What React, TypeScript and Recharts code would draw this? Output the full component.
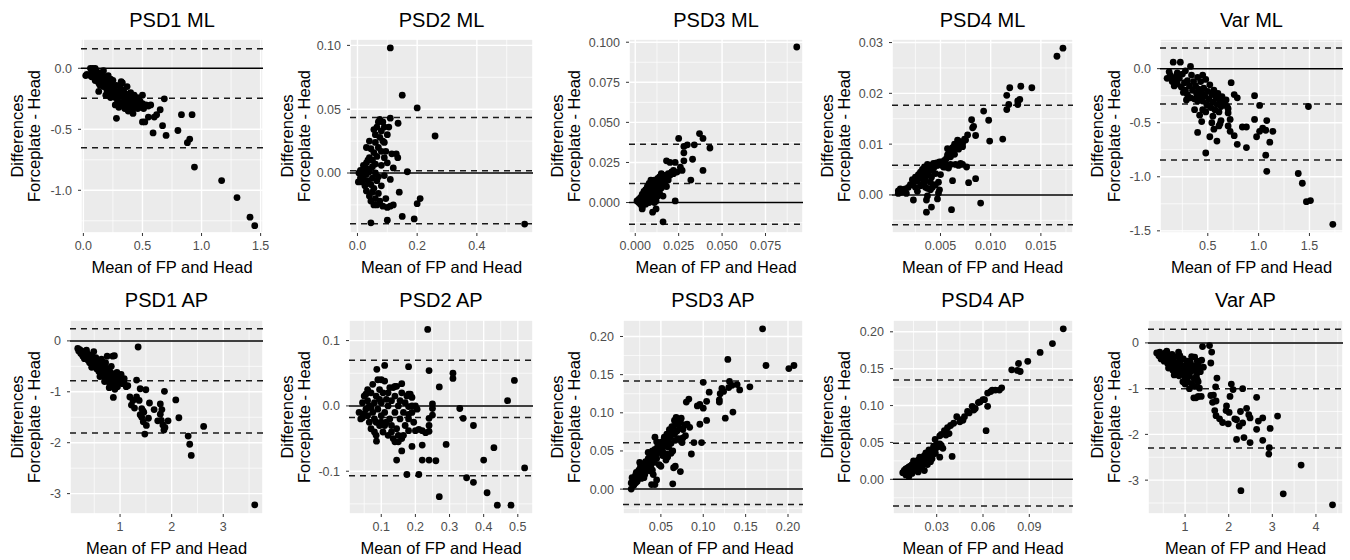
import React from 'react';
import {
    CartesianGrid,
    Label,
    ReferenceLine,
    Scatter,
    ScatterChart,
    XAxis,
    YAxis,
} from 'recharts';

type Pt = [number, number];

const titles = ['PSD1 ML', 'PSD2 ML', 'PSD3 ML', 'PSD4 ML', 'Var ML', 'PSD1 AP', 'PSD2 AP', 'PSD3 AP', 'PSD4 AP', 'Var AP'];
const xTitle = 'Mean of FP and Head';
const yTitleLines = ['Differences', 'Forceplate - Head'];

// [mean, mean + 1.96 sd, mean - 1.96 sd] for each panel
const limitsPsd1Ml = [-0.246, 0.16, -0.652];
const limitsPsd2Ml = [0.0018, 0.0434, -0.0397];
const limitsPsd3Ml = [0.0118, 0.0364, -0.0135];
const limitsPsd4Ml = [0.00585, 0.01766, -0.0059];
const limitsVarMl = [-0.326, 0.191, -0.846];
const limitsPsd1Ap = [-0.785, 0.24, -1.81];
const limitsPsd2Ap = [-0.0176, 0.0697, -0.107];
const limitsPsd3Ap = [0.0607, 0.1416, -0.0201];
const limitsPsd4Ap = [0.049, 0.1346, -0.0362];
const limitsVarAp = [-1.0, 0.3, -2.3];

// tick labels
const xTicksPsd1Ml = [0, 0.5, 1, 1.5];
const yTicksPsd1Ml = [-1, -0.5, 0];
const xTicksPsd2Ml = [0, 0.2, 0.4];
const yTicksPsd2Ml = [0, 0.05, 0.1];
const xTicksPsd3Ml = [0, 0.025, 0.05, 0.075];
const yTicksPsd3Ml = [0, 0.025, 0.05, 0.075, 0.1];
const xTicksPsd4Ml = [0.005, 0.01, 0.015];
const yTicksPsd4Ml = [0, 0.01, 0.02, 0.03];
const xTicksVarMl = [0.5, 1, 1.5];
const yTicksVarMl = [-1.5, -1, -0.5, 0];
const xTicksPsd1Ap = [1, 2, 3];
const yTicksPsd1Ap = [-3, -2, -1, 0];
const xTicksPsd2Ap = [0.1, 0.2, 0.3, 0.4, 0.5];
const yTicksPsd2Ap = [-0.1, 0, 0.1];
const xTicksPsd3Ap = [0.05, 0.1, 0.15, 0.2];
const yTicksPsd3Ap = [0, 0.05, 0.1, 0.15, 0.2];
const xTicksPsd4Ap = [0.03, 0.06, 0.09];
const yTicksPsd4Ap = [0, 0.05, 0.1, 0.15, 0.2];
const xTicksVarAp = [1, 2, 3, 4];
const yTicksVarAp = [-3, -2, -1, 0];

// points: [mean of FP and Head, difference]
const psd1Ml: Pt[] = [
    [0.02, -0.06], [0.03, -0.05], [0.06, 0.0], [0.07, -0.02], [0.08, 0.0], [0.09, -0.01], [0.1, 0.0],
    [0.06, -0.06], [0.07, -0.07], [0.08, -0.04], [0.09, -0.06], [0.1, -0.03], [0.11, -0.02], [0.12, -0.05],
    [0.11, -0.08], [0.1, -0.1], [0.12, -0.1], [0.13, -0.07], [0.14, -0.04], [0.13, -0.12], [0.15, -0.09],
    [0.14, -0.14], [0.16, -0.05], [0.17, -0.02], [0.16, -0.12], [0.17, -0.15], [0.18, -0.1], [0.18, -0.07],
    [0.19, -0.14], [0.2, -0.11], [0.2, -0.18], [0.21, -0.06], [0.21, -0.16], [0.22, -0.13], [0.22, -0.21],
    [0.23, -0.09], [0.23, -0.24], [0.24, -0.18], [0.24, -0.14], [0.25, -0.22], [0.25, -0.1], [0.19, -0.22],
    [0.26, -0.17], [0.27, -0.24], [0.27, -0.3], [0.28, -0.14], [0.28, -0.2], [0.29, -0.27], [0.3, -0.19],
    [0.3, -0.32], [0.31, -0.23], [0.31, -0.15], [0.32, -0.28], [0.33, -0.22], [0.33, -0.12], [0.34, -0.3],
    [0.34, -0.18], [0.35, -0.25], [0.35, -0.33], [0.36, -0.21], [0.36, -0.28], [0.37, -0.15], [0.37, -0.31],
    [0.38, -0.24], [0.38, -0.35], [0.39, -0.27], [0.4, -0.2], [0.4, -0.31], [0.41, -0.25], [0.41, -0.34],
    [0.42, -0.28], [0.43, -0.22], [0.43, -0.31], [0.44, -0.26], [0.45, -0.29], [0.46, -0.24], [0.47, -0.31],
    [0.48, -0.27], [0.49, -0.32], [0.5, -0.29], [0.51, -0.33], [0.53, -0.3], [0.55, -0.31],
    [0.13, -0.19], [0.32, -0.11], [0.28, -0.41], [0.5, -0.22], [0.42, -0.37], [0.45, -0.32], [0.46, -0.33],
    [0.52, -0.44], [0.55, -0.4], [0.57, -0.3], [0.6, -0.4], [0.62, -0.38], [0.65, -0.34], [0.5, -0.44],
    [0.685, -0.25], [0.83, -0.38], [0.92, -0.38], [0.8, -0.51], [0.59, -0.53], [0.7, -0.55], [0.67, -0.47],
    [0.9, -0.58], [0.88, -0.61], [0.94, -0.81], [1.17, -0.92], [1.3, -1.06], [1.41, -1.22], [1.45, -1.29],
];

const psd2Ml: Pt[] = [
    [0.11, 0.098], [0.15, 0.061], [0.2, 0.051], [0.26, 0.029], [0.56, -0.04], [0.167, 0.001], [0.21, -0.02],
    [0.2, -0.024], [0.19, -0.036], [0.15, -0.034], [0.1, -0.037], [0.045, -0.039], [0.14, -0.015], [0.13, 0.015],
    [0.135, 0.012], [0.12, 0.004], [0.136, 0.039], [0.11, 0.043], [0.12, -0.025], [0.11, -0.026],
    [0.01, -0.004], [0.01, 0.002], [0.015, -0.007], [0.02, 0.001], [0.02, -0.003], [0.02, 0.006], [0.025, -0.01],
    [0.025, 0.004], [0.03, -0.001], [0.03, 0.008], [0.03, -0.014], [0.035, 0.003], [0.035, -0.006], [0.04, 0.012],
    [0.04, -0.018], [0.04, 0.001], [0.045, -0.009], [0.045, 0.019], [0.045, -0.022], [0.05, 0.005], [0.05, -0.004],
    [0.05, 0.01], [0.05, -0.015], [0.055, 0.034], [0.055, -0.012], [0.055, 0.016], [0.06, 0.0], [0.06, -0.02],
    [0.06, 0.024], [0.06, 0.007], [0.065, -0.006], [0.065, 0.036], [0.065, -0.025], [0.065, 0.013], [0.07, 0.04],
    [0.07, -0.003], [0.07, 0.02], [0.07, -0.016], [0.075, 0.028], [0.075, 0.042], [0.075, -0.022], [0.08, 0.006],
    [0.08, -0.01], [0.08, 0.033], [0.08, 0.017], [0.085, -0.026], [0.085, 0.025], [0.09, 0.036], [0.09, -0.002],
    [0.09, 0.012], [0.095, -0.02], [0.095, 0.017], [0.1, 0.03], [0.1, -0.027], [0.1, 0.008], [0.105, 0.036],
    [0.11, -0.005], [0.115, 0.015], [0.03, 0.02], [0.04, 0.025], [0.035, 0.01], [0.055, -0.025], [0.06, 0.03],
    [0.085, 0.04], [0.09, 0.024], [0.003, -0.007], [0.005, 0.0],
];

const psd3Ml: Pt[] = [
    [0.093, 0.097], [0.037, 0.043], [0.039, 0.04], [0.043, 0.034], [0.039, 0.02], [0.033, 0.027], [0.032, 0.014],
    [0.034, 0.036], [0.025, 0.04], [0.023, 0.001], [0.016, -0.012], [0.03, 0.036], [0.028, 0.035], [0.028, 0.031],
    [0.028, 0.026], [0.018, 0.026], [0.02, 0.025], [0.023, 0.025], [0.027, 0.02], [0.026, 0.022], [0.024, 0.019],
    [0.021, 0.019], [0.022, 0.02],
    [0.001, 0.001], [0.002, 0.002], [0.002, 0.0], [0.003, 0.003], [0.003, -0.001], [0.004, 0.002], [0.004, 0.005],
    [0.004, -0.003], [0.005, 0.001], [0.005, 0.004], [0.005, 0.007], [0.006, 0.003], [0.006, -0.001], [0.006, 0.008],
    [0.007, 0.005], [0.007, 0.002], [0.007, 0.01], [0.008, 0.006], [0.008, 0.0], [0.008, 0.009], [0.009, 0.004],
    [0.009, 0.011], [0.009, 0.007], [0.01, 0.002], [0.01, 0.008], [0.01, 0.012], [0.01, -0.006], [0.011, 0.005],
    [0.011, 0.01], [0.011, 0.014], [0.012, 0.007], [0.012, 0.012], [0.012, 0.001], [0.013, 0.009], [0.013, 0.015],
    [0.013, 0.004], [0.014, 0.011], [0.014, 0.016], [0.014, 0.006], [0.015, 0.013], [0.015, 0.009], [0.015, 0.018],
    [0.016, 0.015], [0.016, 0.011], [0.016, 0.004], [0.017, 0.017], [0.017, 0.013], [0.018, 0.016], [0.018, 0.01],
    [0.019, 0.018], [0.019, 0.014], [0.02, 0.017], [0.021, 0.019], [0.022, 0.018], [0.012, -0.004], [0.006, 0.005],
    [0.003, 0.001], [0.008, 0.012], [0.009, 0.014], [0.011, 0.0], [0.004, -0.004],
];

const psd4Ml: Pt[] = [
    [0.0172, 0.0289], [0.0166, 0.0273], [0.013, 0.0214], [0.0141, 0.0211], [0.0119, 0.0211], [0.0116, 0.0196],
    [0.0129, 0.0188], [0.0127, 0.0185], [0.0127, 0.0178], [0.0118, 0.0178], [0.0116, 0.0168], [0.0112, 0.011],
    [0.0093, 0.0165], [0.0098, 0.0147], [0.0099, 0.0106], [0.009, -0.0016], [0.0085, 0.0032], [0.0078, 0.0024],
    [0.0076, 0.0055], [0.0085, 0.0117], [0.0082, 0.0132], [0.0083, 0.0135], [0.0081, 0.0148], [0.0077, 0.0118],
    [0.0075, 0.0108], [0.0072, 0.0101], [0.0069, 0.0099], [0.0067, 0.0108], [0.0064, 0.01], [0.0062, 0.0093],
    [0.0072, 0.006], [0.0068, 0.0058], [0.0061, -0.0029], [0.0062, 0.0028], [0.0058, 0.0053], [0.0057, 0.0091],
    [0.0057, 0.0079], [0.0053, 0.0055], [0.0048, 0.0004], [0.0049, 0.001], [0.0041, -0.0024], [0.0036, -0.0034],
    [0.0036, -0.001], [0.0037, -0.0002], [0.0047, -0.0008], [0.0037, 0.0013], [0.004, 0.001], [0.0034, 0.0023],
    [0.0032, 0.0021], [0.0023, -0.001], [0.0027, 0.0007], [0.0023, 0.0025], [0.0008, 0.0008], [0.0011, 0.0005],
    [0.0016, 0.0003], [0.0008, 0.0003], [0.001, 0.0012], [0.0012, 0.001],
    [0.002, 0.002], [0.0022, 0.003], [0.0025, 0.0035], [0.0027, 0.0028], [0.0028, 0.004], [0.003, 0.0045],
    [0.003, 0.0033], [0.0032, 0.005], [0.0033, 0.0038], [0.0034, 0.0055], [0.0035, 0.003], [0.0036, 0.0045],
    [0.0037, 0.006], [0.0038, 0.004], [0.0039, 0.0052], [0.004, 0.0058], [0.0041, 0.0035], [0.0042, 0.0048],
    [0.0043, 0.0062], [0.0044, 0.0055], [0.0045, 0.0042], [0.0046, 0.0063], [0.0047, 0.0058], [0.0048, 0.0025],
    [0.0049, 0.0065], [0.005, 0.006], [0.0051, 0.0065], [0.0052, 0.0058], [0.0054, 0.0068], [0.0055, 0.0062],
    [0.0056, 0.0072], [0.0058, 0.008], [0.0059, 0.0088], [0.006, 0.0075], [0.0061, 0.0085], [0.0063, 0.009],
    [0.0064, 0.008], [0.0066, 0.0095], [0.0068, 0.009], [0.007, 0.0105], [0.0072, 0.0095], [0.0074, 0.011],
    [0.0025, 0.0015], [0.003, 0.0018], [0.0018, 0.0015], [0.0015, 0.0012], [0.004, 0.0025], [0.0045, 0.002],
    [0.005, 0.004], [0.0035, 0.0015], [0.0042, 0.0015], [0.0055, 0.0055], [0.006, 0.006], [0.0065, 0.006],
    [0.007, 0.0062],
];

const varMl: Pt[] = [
    [0.16, 0.06], [0.23, 0.06], [0.33, 0.02], [0.1, -0.09], [0.13, -0.06], [0.16, -0.1], [0.19, -0.07],
    [0.73, -0.13], [0.76, -0.24], [0.79, -0.27], [0.96, -0.25], [1.01, -0.34], [0.96, -0.47], [1.08, -0.48],
    [1.14, -0.58], [1.11, -0.68], [1.01, -0.58], [1.04, -0.55], [0.98, -0.63], [1.07, -0.57], [1.07, -0.8],
    [1.08, -0.95], [0.88, -0.54], [0.84, -0.54], [0.88, -0.73], [0.79, -0.7], [0.76, -0.62], [0.72, -0.58],
    [0.7, -0.53], [0.72, -0.47], [0.7, -0.41], [0.69, -0.35], [0.63, -0.48], [0.61, -0.53], [0.62, -0.51],
    [0.59, -0.67], [0.52, -0.63], [0.56, -0.56], [0.54, -0.5], [0.55, -0.44], [0.48, -0.78], [0.4, -0.59],
    [0.48, -0.4], [0.5, -0.34], [0.45, -0.38], [0.44, -0.49], [0.42, -0.43], [0.37, -0.38],
    [0.15, -0.12], [0.18, -0.1], [0.2, -0.14], [0.22, -0.09], [0.24, -0.17], [0.25, -0.05], [0.27, -0.13],
    [0.28, -0.2], [0.3, -0.11], [0.3, -0.24], [0.32, -0.16], [0.33, -0.27], [0.34, -0.06], [0.35, -0.2],
    [0.36, -0.12], [0.37, -0.28], [0.38, -0.16], [0.39, -0.23], [0.4, -0.08], [0.4, -0.3], [0.41, -0.19],
    [0.42, -0.26], [0.43, -0.12], [0.44, -0.22], [0.45, -0.06], [0.45, -0.3], [0.46, -0.18], [0.47, -0.25],
    [0.48, -0.1], [0.49, -0.33], [0.5, -0.21], [0.51, -0.28], [0.52, -0.15], [0.53, -0.36], [0.54, -0.24],
    [0.55, -0.31], [0.56, -0.2], [0.57, -0.38], [0.58, -0.27], [0.59, -0.33], [0.6, -0.23], [0.61, -0.4],
    [0.62, -0.29], [0.63, -0.35], [0.64, -0.26], [0.66, -0.32], [0.68, -0.29], [0.7, -0.37], [0.2, -0.04],
    [0.17, -0.16], [0.26, -0.22], [0.28, -0.02], [0.12, -0.03], [0.29, -0.29],
    [1.39, -0.97], [1.43, -1.06], [1.47, -1.23], [1.51, -1.22], [1.49, -0.35], [1.73, -1.44],
];

const psd1Ap: Pt[] = [
    [0.18, -0.15], [0.2, -0.2], [0.22, -0.17], [0.24, -0.25], [0.26, -0.2], [0.28, -0.3], [0.3, -0.22],
    [0.31, -0.35], [0.33, -0.27], [0.35, -0.32], [0.36, -0.24], [0.38, -0.38], [0.4, -0.3], [0.41, -0.43],
    [0.43, -0.35], [0.45, -0.28], [0.46, -0.45], [0.48, -0.38], [0.49, -0.21], [0.5, -0.5], [0.52, -0.42],
    [0.53, -0.33], [0.55, -0.55], [0.56, -0.47], [0.58, -0.4], [0.59, -0.6], [0.6, -0.52], [0.62, -0.45],
    [0.63, -0.65], [0.64, -0.36], [0.65, -0.56], [0.67, -0.48], [0.68, -0.7], [0.7, -0.6], [0.71, -0.52],
    [0.72, -0.43], [0.73, -0.75], [0.74, -0.64], [0.75, -0.3], [0.76, -0.56], [0.77, -0.8], [0.78, -0.68],
    [0.8, -0.6], [0.81, -0.85], [0.82, -0.72], [0.83, -0.5], [0.84, -0.64], [0.85, -0.9], [0.86, -0.3],
    [0.87, -0.77], [0.88, -0.68], [0.9, -0.85], [0.92, -0.73], [0.94, -0.62], [0.96, -0.82], [0.98, -0.7],
    [1.0, -0.78], [1.02, -0.66], [1.05, -0.84], [1.08, -0.74], [1.12, -0.9], [0.35, -0.18], [0.27, -0.26],
    [0.55, -0.38], [0.66, -0.42], [0.61, -0.7], [0.79, -0.92], [0.7, -0.8], [0.45, -0.52], [0.9, -0.95],
    [0.95, -0.9], [1.15, -0.88],
    [1.35, -0.12], [3.61, -3.22], [2.38, -2.25], [2.35, -2.03], [2.32, -1.87], [2.62, -1.68], [2.14, -1.51],
    [2.08, -1.16], [1.86, -0.99], [1.93, -1.57], [1.87, -1.7], [1.85, -1.75], [1.78, -1.24], [1.81, -1.35],
    [1.78, -1.44], [1.73, -1.57], [1.66, -1.35], [1.48, -1.83], [1.51, -1.66], [1.45, -1.59], [1.55, -1.52],
    [1.57, -1.22], [1.5, -0.96], [1.39, -0.94], [1.37, -1.17], [1.32, -1.1], [1.42, -1.33], [1.39, -1.45],
    [1.44, -1.37], [1.32, -0.77], [1.22, -1.26], [1.19, -1.1], [1.08, -0.83], [0.87, -1.11], [0.89, -0.29],
    [1.25, -1.17], [1.42, -1.5], [1.46, -1.4], [1.8, -1.56], [1.83, -1.65], [1.28, -1.32],
];

const psd2Ap: Pt[] = [
    [0.236, 0.117], [0.52, -0.095], [0.49, 0.039], [0.47, 0.008], [0.43, -0.064], [0.4, -0.083], [0.41, -0.133],
    [0.44, -0.152], [0.48, -0.152], [0.35, -0.11], [0.37, -0.117], [0.37, -0.03], [0.34, -0.019], [0.33, -0.004],
    [0.31, 0.05], [0.31, 0.042], [0.29, -0.059], [0.27, 0.029], [0.27, -0.139], [0.26, -0.084], [0.24, -0.083],
    [0.24, 0.054], [0.25, 0.003], [0.25, -0.004], [0.25, -0.014], [0.24, -0.019], [0.24, -0.039], [0.23, -0.041],
    [0.24, -0.03], [0.22, -0.038], [0.21, -0.036], [0.2, -0.038], [0.21, -0.105], [0.22, -0.06], [0.22, -0.083],
    [0.175, -0.105], [0.18, -0.038], [0.18, -0.013], [0.18, -0.001], [0.19, -0.01], [0.18, 0.06], [0.19, 0.013],
    [0.18, 0.018], [0.19, -0.062], [0.16, 0.034], [0.16, -0.069], [0.145, -0.083], [0.11, 0.062], [0.087, 0.056],
    [0.086, -0.054], [0.14, 0.03], [0.145, 0.03],
    [0.035, -0.01], [0.04, -0.02], [0.045, 0.005], [0.05, -0.012], [0.05, 0.015], [0.055, 0.018], [0.055, -0.005],
    [0.06, -0.015], [0.06, 0.008], [0.065, -0.025], [0.065, 0.0], [0.07, -0.035], [0.07, 0.02], [0.075, 0.033],
    [0.075, -0.01], [0.08, -0.04], [0.08, 0.005], [0.085, -0.025], [0.085, 0.015], [0.09, 0.04], [0.09, -0.005],
    [0.095, -0.03], [0.095, 0.025], [0.1, 0.04], [0.1, -0.015], [0.1, 0.005], [0.105, -0.04], [0.105, 0.02],
    [0.11, 0.038], [0.11, -0.01], [0.115, -0.025], [0.115, 0.01], [0.12, 0.0], [0.12, -0.045], [0.125, 0.028],
    [0.125, -0.02], [0.13, -0.03], [0.13, 0.008], [0.135, 0.028], [0.135, -0.05], [0.14, -0.01], [0.14, -0.055],
    [0.145, -0.035], [0.15, 0.0], [0.15, -0.045], [0.155, 0.008], [0.155, -0.02], [0.16, -0.05], [0.165, -0.01],
    [0.17, 0.005], [0.17, -0.03], [0.175, 0.015], [0.18, -0.02], [0.185, 0.018], [0.19, 0.0], [0.195, -0.025],
    [0.2, 0.0], [0.205, -0.005], [0.045, -0.018], [0.06, 0.025], [0.08, -0.02], [0.095, 0.01], [0.11, -0.03],
    [0.13, -0.04], [0.15, -0.055], [0.165, -0.045], [0.085, -0.045], [0.1, -0.025], [0.07, -0.003], [0.12, 0.02],
    [0.16, 0.02], [0.14, 0.015],
];

const psd3Ap: Pt[] = [
    [0.17, 0.21], [0.129, 0.17], [0.174, 0.162], [0.201, 0.158], [0.207, 0.162], [0.131, 0.141], [0.13, 0.133],
    [0.134, 0.136], [0.14, 0.137], [0.143, 0.13], [0.155, 0.134], [0.122, 0.132], [0.124, 0.128], [0.12, 0.125],
    [0.119, 0.117], [0.119, 0.114], [0.126, 0.093], [0.135, 0.101], [0.1, 0.14], [0.107, 0.127], [0.104, 0.115],
    [0.1, 0.106], [0.096, 0.111], [0.093, 0.109], [0.104, 0.09], [0.096, 0.085], [0.098, 0.061], [0.089, 0.061],
    [0.086, 0.046], [0.083, 0.118], [0.08, 0.114], [0.084, 0.081], [0.081, 0.085], [0.073, 0.088], [0.075, 0.061],
    [0.079, 0.07], [0.076, 0.067], [0.073, 0.023], [0.064, 0.007], [0.065, 0.028], [0.067, 0.03], [0.068, 0.094],
    [0.066, 0.09], [0.063, 0.082], [0.045, 0.012], [0.039, 0.006], [0.043, 0.006], [0.043, 0.068], [0.041, 0.019],
    [0.037, 0.024], [0.056, 0.046], [0.052, 0.05],
    [0.015, 0.0], [0.015, 0.008], [0.016, 0.015], [0.018, 0.005], [0.019, 0.012], [0.02, 0.018], [0.021, 0.022],
    [0.022, 0.01], [0.023, 0.016], [0.024, 0.025], [0.025, 0.02], [0.026, 0.03], [0.027, 0.014], [0.028, 0.024],
    [0.029, 0.033], [0.03, 0.028], [0.031, 0.019], [0.032, 0.036], [0.033, 0.03], [0.034, 0.025], [0.035, 0.04],
    [0.036, 0.033], [0.037, 0.045], [0.038, 0.03], [0.039, 0.038], [0.04, 0.05], [0.041, 0.042], [0.042, 0.035],
    [0.043, 0.052], [0.044, 0.046], [0.045, 0.04], [0.046, 0.055], [0.047, 0.048], [0.048, 0.032], [0.049, 0.058],
    [0.05, 0.05], [0.051, 0.062], [0.052, 0.044], [0.053, 0.056], [0.054, 0.068], [0.055, 0.06], [0.056, 0.038],
    [0.057, 0.072], [0.058, 0.064], [0.059, 0.055], [0.06, 0.078], [0.061, 0.068], [0.062, 0.06], [0.063, 0.074],
    [0.064, 0.05], [0.065, 0.082], [0.066, 0.072], [0.067, 0.064], [0.068, 0.086], [0.069, 0.076], [0.07, 0.09],
    [0.071, 0.066], [0.072, 0.08], [0.074, 0.093], [0.076, 0.078], [0.078, 0.084], [0.02, 0.008], [0.03, 0.015],
    [0.04, 0.025], [0.05, 0.03], [0.058, 0.042], [0.062, 0.047], [0.045, 0.062], [0.035, 0.048], [0.025, 0.035],
];

const psd4Ap: Pt[] = [
    [0.112, 0.204], [0.105, 0.184], [0.097, 0.172], [0.089, 0.16], [0.083, 0.157], [0.0786, 0.1485],
    [0.0823, 0.1476], [0.0841, 0.1462], [0.0721, 0.124], [0.0706, 0.121], [0.068, 0.121], [0.066, 0.121],
    [0.065, 0.119], [0.063, 0.117], [0.063, 0.099], [0.062, 0.066], [0.06, 0.108], [0.057, 0.104], [0.055, 0.096],
    [0.054, 0.094], [0.053, 0.099], [0.05, 0.092], [0.048, 0.085], [0.046, 0.081], [0.043, 0.085], [0.041, 0.076],
    [0.039, 0.073], [0.037, 0.07], [0.035, 0.066], [0.04, 0.031], [0.033, 0.061], [0.032, 0.059], [0.029, 0.054],
    [0.032, 0.03], [0.029, 0.035], [0.036, 0.06], [0.038, 0.062], [0.045, 0.078], [0.047, 0.08], [0.051, 0.09],
    [0.058, 0.105], [0.061, 0.108],
    [0.008, 0.009], [0.009, 0.012], [0.01, 0.006], [0.01, 0.014], [0.011, 0.01], [0.012, 0.004], [0.012, 0.017],
    [0.013, 0.012], [0.014, 0.02], [0.014, 0.008], [0.015, 0.016], [0.016, 0.023], [0.016, 0.013], [0.017, 0.019],
    [0.018, 0.026], [0.018, 0.01], [0.019, 0.022], [0.02, 0.029], [0.02, 0.016], [0.021, 0.025], [0.022, 0.032],
    [0.022, 0.012], [0.023, 0.028], [0.024, 0.035], [0.024, 0.02], [0.025, 0.031], [0.026, 0.038], [0.026, 0.024],
    [0.027, 0.034], [0.028, 0.042], [0.028, 0.045], [0.029, 0.04], [0.03, 0.047], [0.031, 0.044], [0.032, 0.048],
    [0.033, 0.046], [0.034, 0.042], [0.019, 0.03], [0.017, 0.015], [0.021, 0.02], [0.023, 0.036], [0.015, 0.025],
    [0.025, 0.04], [0.013, 0.018], [0.011, 0.015], [0.027, 0.028], [0.029, 0.036],
];

const varAp: Pt[] = [
    [4.38, -3.54], [3.66, -2.67], [3.25, -3.3], [2.28, -3.23], [2.95, -1.87], [2.93, -2.29], [2.92, -2.43],
    [3.12, -1.6], [2.78, -1.64], [2.78, -2.13], [2.64, -1.19], [2.64, -1.89], [2.68, -1.71], [2.49, -2.18],
    [2.35, -2.07], [2.18, -2.11], [2.32, -1.0], [2.46, -1.57], [2.41, -1.43], [2.49, -1.64], [2.27, -1.5],
    [2.32, -1.75], [2.24, -1.82], [2.18, -1.68], [2.14, -1.66], [2.06, -0.9], [2.1, -1.02], [2.03, -1.17],
    [1.95, -1.38], [2.01, -1.52], [1.94, -1.48], [1.99, -1.77], [1.86, -1.74], [1.79, -1.66], [1.71, -1.59],
    [1.68, -1.48], [1.73, -0.77], [1.7, -0.96], [1.65, -1.14], [1.63, -1.3], [1.71, -1.27], [1.59, -1.15],
    [1.4, -0.08], [1.56, -0.06], [1.61, -0.2], [1.59, -0.44], [1.38, -0.38], [1.42, -0.53], [1.35, -0.63],
    [1.28, -0.81], [1.33, -0.99], [1.37, -1.17], [1.3, -1.17], [1.22, -0.31], [1.3, -0.46],
    [0.35, -0.22], [0.4, -0.28], [0.42, -0.2], [0.45, -0.35], [0.48, -0.25], [0.5, -0.3], [0.52, -0.4],
    [0.55, -0.22], [0.57, -0.33], [0.6, -0.45], [0.62, -0.28], [0.64, -0.38], [0.66, -0.52], [0.68, -0.32],
    [0.7, -0.44], [0.72, -0.6], [0.74, -0.4], [0.76, -0.5], [0.78, -0.3], [0.8, -0.65], [0.82, -0.45],
    [0.84, -0.55], [0.85, -0.2], [0.86, -0.72], [0.88, -0.4], [0.9, -0.6], [0.92, -0.5], [0.94, -0.68],
    [0.96, -0.35], [0.98, -0.58], [1.0, -0.75], [1.02, -0.48], [1.04, -0.65], [1.06, -0.85], [1.08, -0.55],
    [1.1, -0.72], [1.12, -0.42], [1.14, -0.62], [1.16, -0.9], [1.18, -0.5], [1.2, -0.78], [1.22, -0.95],
    [1.24, -0.6], [1.26, -0.72], [1.28, -0.4], [1.3, -0.85], [1.32, -0.55], [1.2, -1.2], [1.25, -1.2],
    [1.1, -1.0], [0.95, -0.85], [0.75, -0.7], [0.62, -0.55], [1.0, -0.9], [1.15, -0.3], [1.05, -0.4],
    [0.7, -0.25], [0.58, -0.18], [0.88, -0.28],
];

const FONT = '"Liberation Sans", Arial, Helvetica, sans-serif';
const PANEL_W = 270;
const PANEL_H = 280;
const PLOT_RIGHT = 263;

interface PanelCfg {
    title: string;
    points: Pt[];
    limits: number[];
    xTicks: number[];
    yTicks: number[];
    xDomain: [number, number];
    yDomain: [number, number];
    xDigits: number;
    yDigits: number;
    plotLeft: number;
}

const panels: PanelCfg[] = [
    { title: titles[0], points: psd1Ml, limits: limitsPsd1Ml, xTicks: xTicksPsd1Ml, yTicks: yTicksPsd1Ml, xDomain: [-0.02, 1.52], yDomain: [-1.35, 0.24], xDigits: 1, yDigits: 1, plotLeft: 81 },
    { title: titles[1], points: psd2Ml, limits: limitsPsd2Ml, xTicks: xTicksPsd2Ml, yTicks: yTicksPsd2Ml, xDomain: [-0.025, 0.588], yDomain: [-0.047, 0.105], xDigits: 1, yDigits: 2, plotLeft: 80 },
    { title: titles[2], points: psd3Ml, limits: limitsPsd3Ml, xTicks: xTicksPsd3Ml, yTicks: yTicksPsd3Ml, xDomain: [-0.0036, 0.0966], yDomain: [-0.019, 0.102], xDigits: 3, yDigits: 3, plotLeft: 89 },
    { title: titles[3], points: psd4Ml, limits: limitsPsd4Ml, xTicks: xTicksPsd4Ml, yTicks: yTicksPsd4Ml, xDomain: [0.00017, 0.0182], yDomain: [-0.0075, 0.0307], xDigits: 3, yDigits: 2, plotLeft: 82 },
    { title: titles[4], points: varMl, limits: limitsVarMl, xTicks: xTicksVarMl, yTicks: yTicksVarMl, xDomain: [0.03, 1.83], yDomain: [-1.52, 0.274], xDigits: 1, yDigits: 1, plotLeft: 80 },
    { title: titles[5], points: psd1Ap, limits: limitsPsd1Ap, xTicks: xTicksPsd1Ap, yTicks: yTicksPsd1Ap, xDomain: [0.03, 3.77], yDomain: [-3.4, 0.41], xDigits: 0, yDigits: 0, plotLeft: 70 },
    { title: titles[6], points: psd2Ap, limits: limitsPsd2Ap, xTicks: xTicksPsd2Ap, yTicks: yTicksPsd2Ap, xDomain: [0.0055, 0.5445], yDomain: [-0.1655, 0.1315], xDigits: 1, yDigits: 1, plotLeft: 79 },
    { title: titles[7], points: psd3Ap, limits: limitsPsd3Ap, xTicks: xTicksPsd3Ap, yTicks: yTicksPsd3Ap, xDomain: [0.0053, 0.2177], yDomain: [-0.0326, 0.2216], xDigits: 2, yDigits: 2, plotLeft: 83 },
    { title: titles[8], points: psd4Ap, limits: limitsPsd4Ap, xTicks: xTicksPsd4Ap, yTicks: yTicksPsd4Ap, xDomain: [0.0017, 0.1183], yDomain: [-0.047, 0.216], xDigits: 2, yDigits: 2, plotLeft: 83 },
    { title: titles[9], points: varAp, limits: limitsVarAp, xTicks: xTicksVarAp, yTicks: yTicksVarAp, xDomain: [0.15, 4.62], yDomain: [-3.74, 0.5], xDigits: 0, yDigits: 0, plotLeft: 68 },
];

// ggplot style minor breaks: midpoints between (extended) major breaks, inside the range
function minorBreaks(major: number[], domain: [number, number]) {
    const step = major[1] - major[0];
    const ext = [major[0] - step, ...major, major[major.length - 1] + step];
    const out: number[] = [];
    for (let i = 0; i < ext.length - 1; i++) {
        const m = (ext[i] + ext[i + 1]) / 2;
        if (m > domain[0] && m < domain[1]) out.push(m);
    }
    return out;
}

const tickStyle = { fill: '#4D4D4D', fontSize: 12.5, fontFamily: FONT };

function XTitle(props: any) {
    const vb = props.viewBox;
    return (
        <text x={vb.x + vb.width / 2} y={vb.y + 40} textAnchor="middle" fontSize={16.5} fontFamily={FONT} fill="#000">
            {xTitle}
        </text>
    );
}

function YTitle(props: any) {
    const vb = props.viewBox;
    const cy = vb.y + vb.height / 2;
    return (
        <g>
            {yTitleLines.map((line, i) => (
                <text
                    key={line}
                    transform={`translate(${23 + i * 17}, ${cy}) rotate(-90)`}
                    textAnchor="middle"
                    fontSize={16.5}
                    fontFamily={FONT}
                    fill="#000"
                >
                    {line}
                </text>
            ))}
        </g>
    );
}

function Panel({ cfg, row, col }: { cfg: PanelCfg; row: number; col: number }) {
    const top = row === 0 ? 39 : 40;
    const bottom = row === 0 ? 233 : 234;
    const data = cfg.points.map(([x, y]) => ({ x, y }));
    const [mean, upper, lower] = cfg.limits;
    const xMinor = minorBreaks(cfg.xTicks, cfg.xDomain);
    const yMinor = minorBreaks(cfg.yTicks, cfg.yDomain);

    return (
        <div style={{ position: 'absolute', left: col * PANEL_W, top: row * PANEL_H, width: PANEL_W, height: PANEL_H }}>
            <div
                style={{
                    position: 'absolute',
                    left: cfg.plotLeft,
                    width: PLOT_RIGHT - cfg.plotLeft,
                    top: 10,
                    textAlign: 'center',
                    fontFamily: FONT,
                    fontSize: 20,
                    lineHeight: '20px',
                    color: '#000',
                }}
            >
                {cfg.title}
            </div>
            <ScatterChart
                width={PANEL_W}
                height={PANEL_H}
                margin={{ top, right: PANEL_W - PLOT_RIGHT, bottom: 0, left: 0 }}
            >
                {/* minor grid (hidden axes) */}
                <XAxis xAxisId="minor" type="number" dataKey="x" domain={cfg.xDomain} ticks={xMinor} allowDataOverflow hide />
                <YAxis yAxisId="minor" type="number" dataKey="y" domain={cfg.yDomain} ticks={yMinor} allowDataOverflow hide />
                <CartesianGrid xAxisId="minor" yAxisId="minor" stroke="#FFFFFF" strokeWidth={0.7} fill="#EBEBEB" fillOpacity={1} />
                <CartesianGrid stroke="#FFFFFF" strokeWidth={1.4} />
                <XAxis
                    type="number"
                    dataKey="x"
                    domain={cfg.xDomain}
                    ticks={cfg.xTicks}
                    interval={0}
                    allowDataOverflow
                    height={PANEL_H - bottom}
                    tickFormatter={(v: number) => v.toFixed(cfg.xDigits)}
                    tick={tickStyle}
                    tickLine={{ stroke: '#333333' }}
                    tickSize={3}
                    tickMargin={5}
                    axisLine={false}
                >
                    <Label content={XTitle} />
                </XAxis>
                <YAxis
                    type="number"
                    dataKey="y"
                    domain={cfg.yDomain}
                    ticks={cfg.yTicks}
                    interval={0}
                    allowDataOverflow
                    width={cfg.plotLeft}
                    tickFormatter={(v: number) => v.toFixed(cfg.yDigits)}
                    tick={tickStyle}
                    tickLine={{ stroke: '#333333' }}
                    tickSize={3}
                    tickMargin={6}
                    axisLine={false}
                >
                    <Label content={YTitle} />
                </YAxis>
                <Scatter
                    data={data}
                    isAnimationActive={false}
                    shape={(p: any) => <circle cx={p.cx} cy={p.cy} r={3.4} fill="#000" />}
                />
                <ReferenceLine y={0} stroke="#000" strokeWidth={1.5} />
                <ReferenceLine y={mean} stroke="#1A1A1A" strokeWidth={1.5} strokeDasharray="6 5" />
                <ReferenceLine y={upper} stroke="#1A1A1A" strokeWidth={1.5} strokeDasharray="6 5" />
                <ReferenceLine y={lower} stroke="#1A1A1A" strokeWidth={1.5} strokeDasharray="6 5" />
            </ScatterChart>
        </div>
    );
}

export default function App() {
    return (
        <div style={{ position: 'absolute', left: 0, top: 0, width: 1350, height: 560, background: '#fff' }}>
            {panels.map((cfg, i) => (
                <Panel key={cfg.title} cfg={cfg} row={Math.floor(i / 5)} col={i % 5} />
            ))}
        </div>
    );
}
